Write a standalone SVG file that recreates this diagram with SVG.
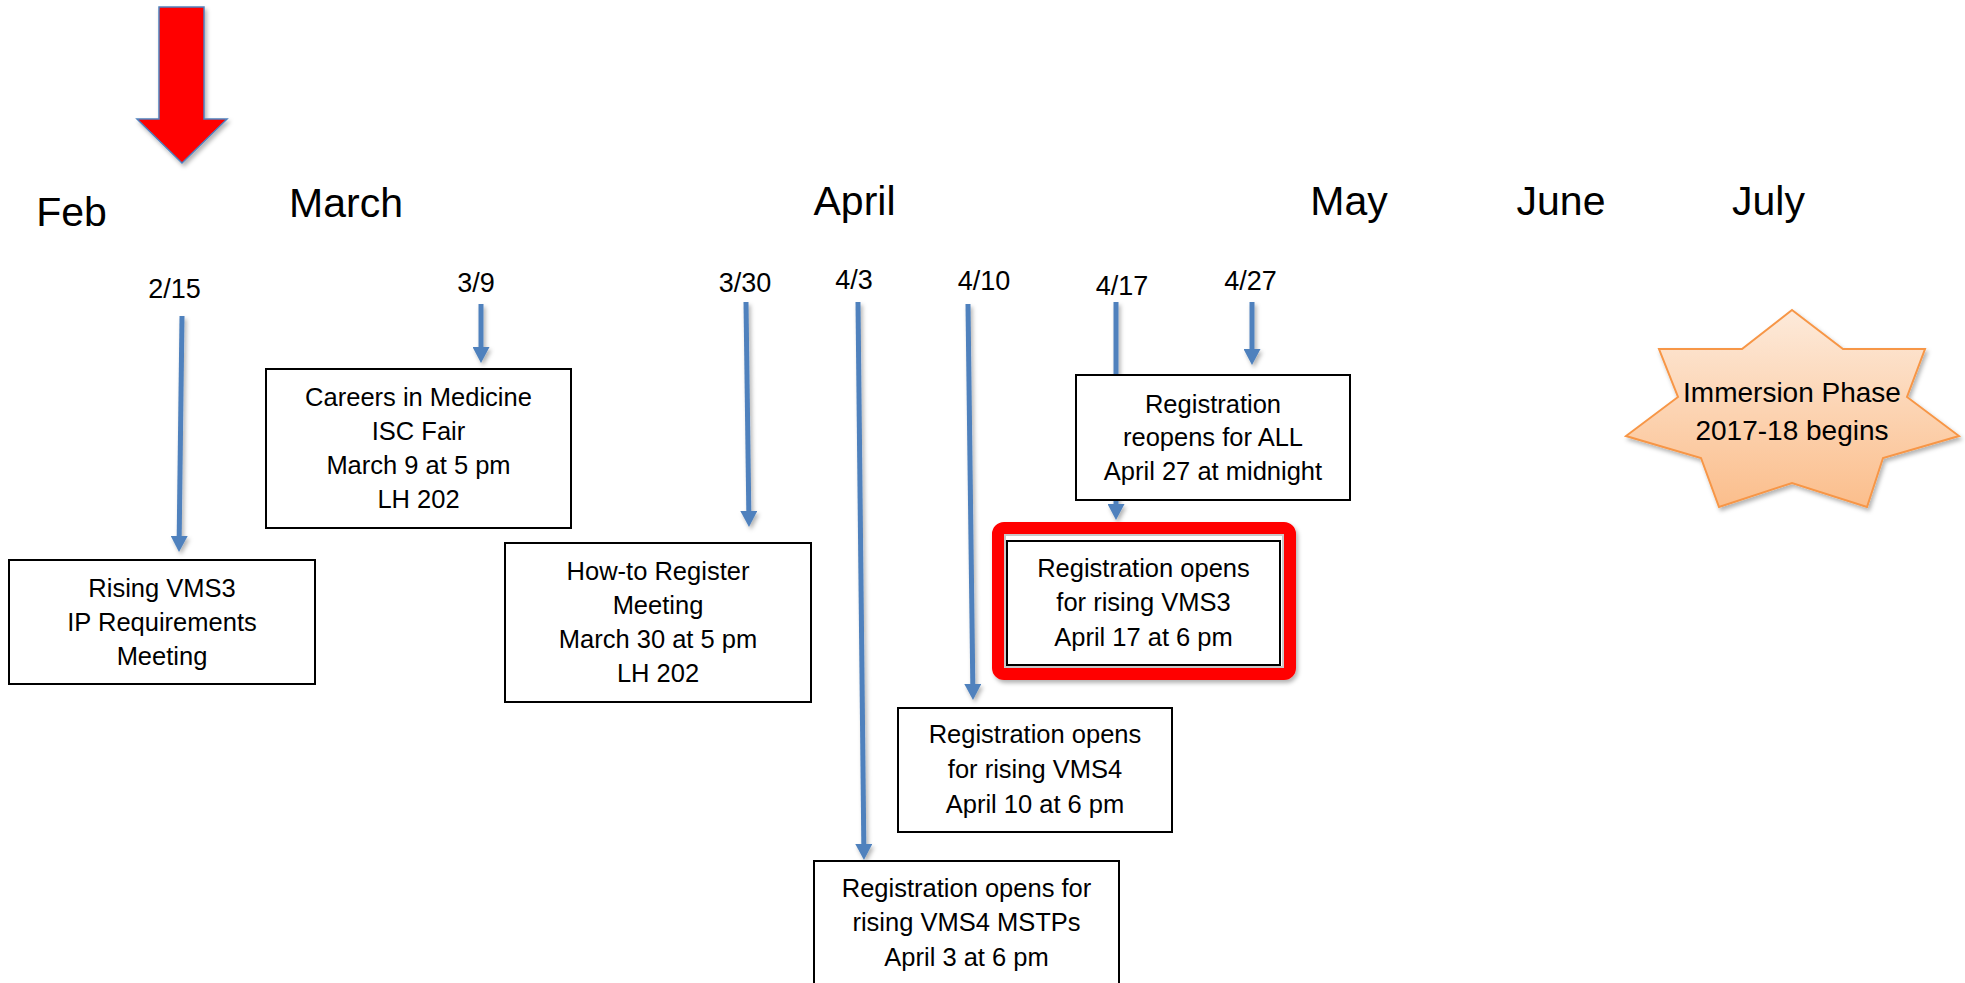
<svg xmlns="http://www.w3.org/2000/svg" width="1965" height="983" viewBox="0 0 1965 983">
  <defs>
    <style>
      text { font-family: "Liberation Sans", Arial, sans-serif; fill: #000; }
      .month { font-size: 41px; text-anchor: middle; }
      .date { font-size: 27px; text-anchor: middle; }
      .lbl { font-size: 25.5px; text-anchor: middle; }
      .box { fill: #fff; stroke: #000; stroke-width: 2; }
      .conn { stroke: #4f81bd; stroke-width: 5; fill: none; }
    </style>
    <filter id="shadow" x="-20%" y="-20%" width="140%" height="140%">
      <feDropShadow dx="2" dy="3" stdDeviation="2" flood-color="#000" flood-opacity="0.3"/>
    </filter>
    <marker id="head" markerUnits="userSpaceOnUse" markerWidth="16" markerHeight="17" viewBox="0 0 16 17" refX="0" refY="8.5" orient="auto">
      <path d="M0,0 L16,8.5 L0,17 Z" fill="#4f81bd"/>
    </marker>
    <linearGradient id="starFill" x1="0" y1="0" x2="0" y2="1">
      <stop offset="0" stop-color="#fdeada"/>
      <stop offset="1" stop-color="#fbbe8c"/>
    </linearGradient>
  </defs>

  <rect width="1965" height="983" fill="#fff"/>

  <!-- "you are here" marker -->
  <g id="pointer" filter="url(#shadow)">
    <polygon points="159,7 204,7 204,119 227,119 182,163 137,119 159,119" fill="#ff0000" stroke="#4f81bd" stroke-width="1.5"/>
  </g>

  <!-- timeline axis -->
  <g id="axis">
    <line x1="33" y1="253" x2="1812" y2="253" stroke="#4f81bd" stroke-width="5" filter="url(#shadow)"/>
    <text class="month" x="71.5" y="226">Feb</text>
    <text class="month" x="346" y="217">March</text>
    <text class="month" x="854.5" y="215">April</text>
    <text class="month" x="1349" y="215">May</text>
    <text class="month" x="1561" y="215">June</text>
    <text class="month" x="1768.5" y="215">July</text>
  </g>

  <!-- date ticks -->
  <g id="dates">
    <text class="date" x="174.5" y="298">2/15</text>
    <text class="date" x="476" y="292">3/9</text>
    <text class="date" x="745" y="292">3/30</text>
    <text class="date" x="854" y="289">4/3</text>
    <text class="date" x="984" y="290">4/10</text>
    <text class="date" x="1122" y="295">4/17</text>
    <text class="date" x="1250.5" y="290">4/27</text>
  </g>

  <!-- connectors from dates to events -->
  <g id="connectors" filter="url(#shadow)">
    <line class="conn" x1="182" y1="316" x2="179.2" y2="536" marker-end="url(#head)"/>
    <line class="conn" x1="481" y1="304" x2="481" y2="347" marker-end="url(#head)"/>
    <line class="conn" x1="746" y1="302" x2="748.8" y2="511" marker-end="url(#head)"/>
    <line class="conn" x1="858" y1="302" x2="863.8" y2="844" marker-end="url(#head)"/>
    <line class="conn" x1="968" y1="304" x2="972.8" y2="684" marker-end="url(#head)"/>
    <line class="conn" x1="1116" y1="302" x2="1116" y2="504" marker-end="url(#head)"/>
    <line class="conn" x1="1252" y1="302" x2="1252" y2="349" marker-end="url(#head)"/>
  </g>

  <g id="node-ip-meeting">
    <rect class="box" x="9" y="560" width="306" height="124"/>
    <text class="lbl" x="162" y="597">Rising VMS3</text>
    <text class="lbl" x="162" y="631">IP Requirements</text>
    <text class="lbl" x="162" y="665">Meeting</text>
  </g>

  <g id="node-careers">
    <rect class="box" x="266" y="369" width="305" height="159"/>
    <text class="lbl" x="418.5" y="406">Careers in Medicine</text>
    <text class="lbl" x="418.5" y="440">ISC Fair</text>
    <text class="lbl" x="418.5" y="474">March 9 at 5 pm</text>
    <text class="lbl" x="418.5" y="508">LH 202</text>
  </g>

  <g id="node-howto">
    <rect class="box" x="505" y="543" width="306" height="159"/>
    <text class="lbl" x="658" y="580">How-to Register</text>
    <text class="lbl" x="658" y="614">Meeting</text>
    <text class="lbl" x="658" y="648">March 30 at 5 pm</text>
    <text class="lbl" x="658" y="682">LH 202</text>
  </g>

  <g id="node-mstp">
    <rect class="box" x="814" y="861" width="305" height="150"/>
    <text class="lbl" x="966.5" y="897">Registration opens for</text>
    <text class="lbl" x="966.5" y="931">rising VMS4 MSTPs</text>
    <text class="lbl" x="966.5" y="966">April 3 at 6 pm</text>
  </g>

  <g id="node-vms4">
    <rect class="box" x="898" y="708" width="274" height="124"/>
    <text class="lbl" x="1035" y="743">Registration opens</text>
    <text class="lbl" x="1035" y="778">for rising VMS4</text>
    <text class="lbl" x="1035" y="813">April 10 at 6 pm</text>
  </g>

  <g id="node-vms3">
    <rect x="998" y="528" width="292" height="146" rx="6" fill="#fff" stroke="#ff0000" stroke-width="12" filter="url(#shadow)"/>
    <rect x="1005" y="535" width="278" height="132" fill="none" stroke="#c8c8c8" stroke-width="2"/>
    <rect class="box" x="1007" y="541" width="273" height="124"/>
    <text class="lbl" x="1143.5" y="577">Registration opens</text>
    <text class="lbl" x="1143.5" y="611">for rising VMS3</text>
    <text class="lbl" x="1143.5" y="646">April 17 at 6 pm</text>
  </g>

  <g id="node-reopen">
    <rect class="box" x="1076" y="375" width="274" height="125"/>
    <text class="lbl" x="1213" y="413">Registration</text>
    <text class="lbl" x="1213" y="446">reopens for ALL</text>
    <text class="lbl" x="1213" y="480">April 27 at midnight</text>
  </g>

  <g id="node-immersion">
    <polygon filter="url(#shadow)" fill="url(#starFill)" stroke="#f79646" stroke-width="2" stroke-linejoin="miter"
      points="1792,310 1843,349 1925,349 1907,397 1959,436 1883,458 1867,507 1792,483 1719,507 1701,458 1626,436 1678,397 1659,349 1742,349"/>
    <text class="lbl" x="1792" y="402" style="font-size:28px">Immersion Phase</text>
    <text class="lbl" x="1792" y="440" style="font-size:28px">2017-18 begins</text>
  </g>
</svg>
